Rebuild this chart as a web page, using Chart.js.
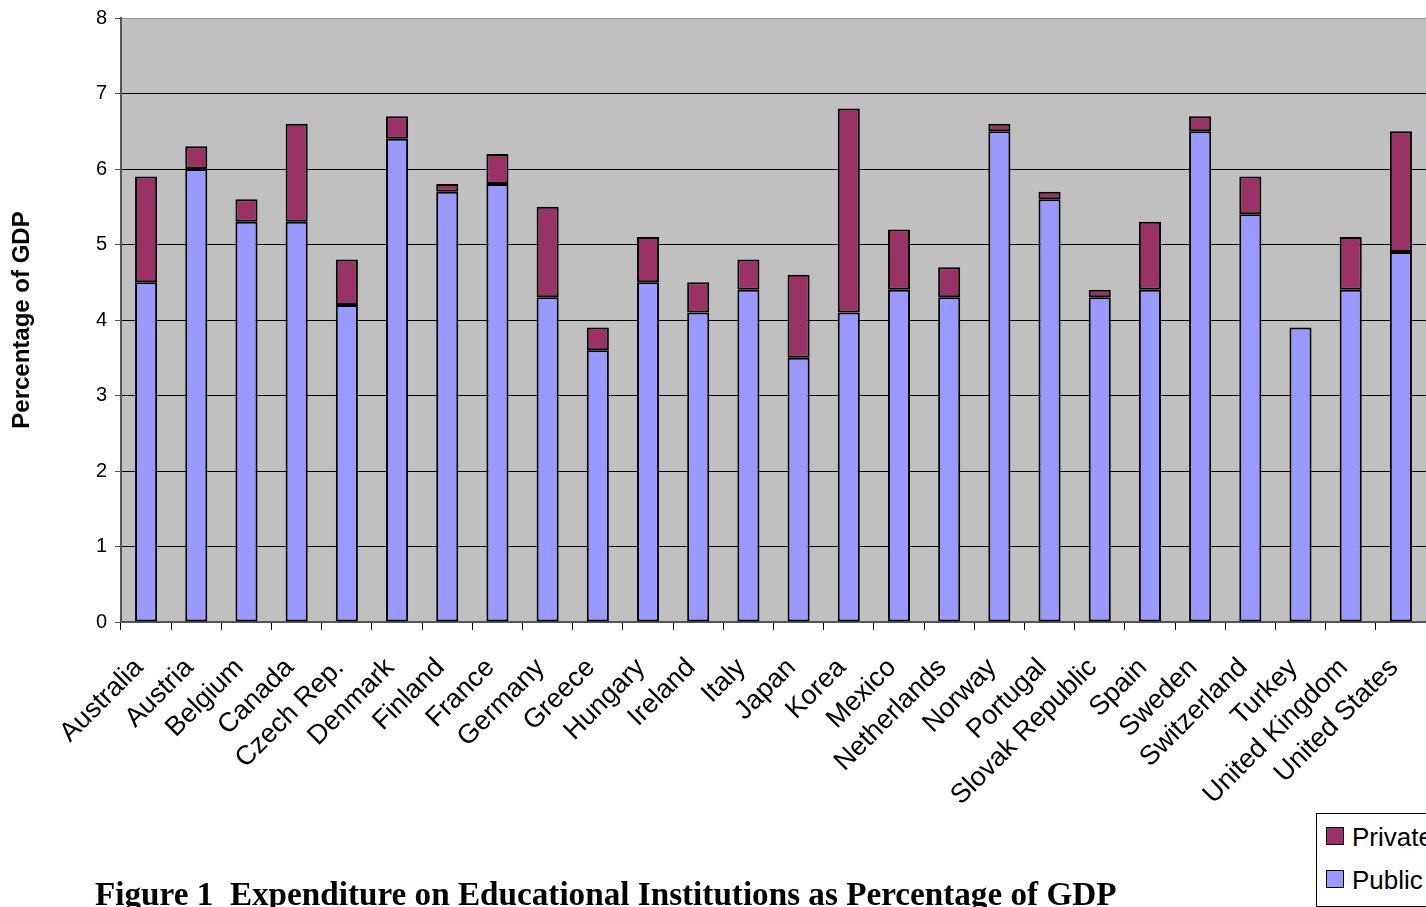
<!DOCTYPE html>
<html>
<head>
<meta charset="utf-8">
<script src="https://cdn.jsdelivr.net/npm/chart.js@4/dist/chart.umd.min.js"></script>
<style>
  html, body { margin: 0; padding: 0; background: #fff; }
  #wrap { position: relative; width: 1426px; height: 907px; overflow: hidden; }
  canvas { position: absolute; left: 0; top: 0; }
  #caption { position: absolute; left: 95px; top: 877px; line-height: 1; font-family: "Liberation Serif", "Times New Roman", serif; font-weight: bold; font-size: 33.2px; white-space: nowrap; color: #000; }
  #legend { position: absolute; left: 1316px; top: 813px; width: 130px; height: 92px; border: 1px solid #000; background: #fff; font-family: "Liberation Sans", Arial, sans-serif; font-size: 26px; }
  .item { position: absolute; left: 9px; white-space: nowrap; }
  .sw { display: inline-block; width: 16px; height: 16px; border: 1px solid #000; vertical-align: 1px; margin-right: 8px; }
</style>
</head>
<body>
<div id="wrap">
  <canvas id="c" width="1426" height="907"></canvas>
  <div id="caption">Figure 1&nbsp;&nbsp;Expenditure on Educational Institutions as Percentage of GDP</div>
  <div id="legend">
    <div class="item" style="top:8px"><span class="sw" style="background:#993366"></span>Private</div>
    <div class="item" style="top:51px"><span class="sw" style="background:#9999FF"></span>Public</div>
  </div>
</div>
<script>
const categories = ["Australia","Austria","Belgium","Canada","Czech Rep.","Denmark","Finland","France","Germany","Greece","Hungary","Ireland","Italy","Japan","Korea","Mexico","Netherlands","Norway","Portugal","Slovak Republic","Spain","Sweden","Switzerland","Turkey","United Kingdom","United States"];
const publicValues  = [4.5,6.0,5.3,5.3,4.2,6.4,5.7,5.8,4.3,3.6,4.5,4.1,4.4,3.5,4.1,4.4,4.3,6.5,5.6,4.3,4.4,6.5,5.4,3.9,4.4,4.9];
const privateValues = [1.4,0.3,0.3,1.3,0.6,0.3,0.1,0.4,1.2,0.3,0.6,0.4,0.4,1.1,2.7,0.8,0.4,0.1,0.1,0.1,0.9,0.2,0.5,0.0,0.7,1.6];
const yTicks = [0,1,2,3,4,5,6,7,8];

const bgPlugin = {
  id: 'plotBg',
  beforeDraw(chart) {
    const {ctx, chartArea: a} = chart;
    ctx.save();
    ctx.fillStyle = '#C0C0C0';
    ctx.fillRect(a.left, a.top, a.right - a.left, a.bottom - a.top);
    ctx.restore();
  }
};

new Chart(document.getElementById('c'), {
  type: 'bar',
  data: {
    labels: categories,
    datasets: [
      { label: 'Public', data: publicValues, backgroundColor: '#9999FF', borderColor: '#000', borderWidth: 2, borderSkipped: false, barPercentage: 0.88, categoryPercentage: 0.5 },
      { label: 'Private', data: privateValues, backgroundColor: '#993366', borderColor: '#000', borderWidth: 2, borderSkipped: false, barPercentage: 0.88, categoryPercentage: 0.5 }
    ]
  },
  options: {
    responsive: false,
    animation: false,
    devicePixelRatio: 1,
    layout: { padding: { top: 18, right: 0, left: 0, bottom: 0 } },
    plugins: { legend: { display: false }, tooltip: { enabled: false } },
    scales: {
      x: {
        stacked: true,
        afterFit(s) { s.height = 285; s.paddingRight = 0; s.paddingLeft = 0; },
        border: { display: true, color: '#555', width: 2 },
        grid: { offset: true, drawOnChartArea: false, drawTicks: true, tickLength: 8, color: '#000', lineWidth: 1 },
        ticks: { autoSkip: false, minRotation: 45, maxRotation: 45, padding: 22, labelOffset: -7, color: '#000', font: { family: '"Liberation Sans", Arial, sans-serif', size: 27 } }
      },
      y: {
        stacked: true,
        min: 0, max: 8,
        afterFit(s) { s.width = 121; s.paddingTop = 0; s.paddingBottom = 0; },
        afterBuildTicks(s) { s.ticks = yTicks.map(v => ({ value: v })); },
        border: { display: true, color: '#555', width: 2 },
        grid: {
          drawTicks: true, tickLength: 6,
          color: ctx => ctx.tick && ctx.tick.value === 8 ? '#999' : '#000',
          tickColor: '#555',
          lineWidth: 1
        },
        ticks: { padding: 8, color: '#000', font: { family: '"Liberation Sans", Arial, sans-serif', size: 20 } },
        title: { display: true, text: 'Percentage of GDP', color: '#000', padding: { top: 8, bottom: 0 }, font: { family: '"Liberation Sans", Arial, sans-serif', size: 24, weight: 'bold' } }
      }
    }
  },
  plugins: [bgPlugin]
});
</script>
</body>
</html>
